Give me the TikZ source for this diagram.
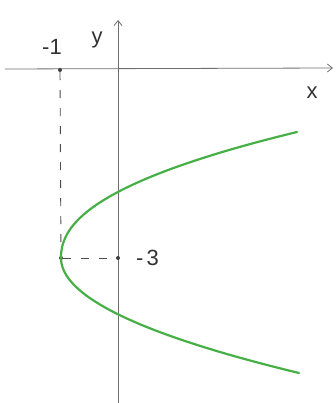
\documentclass[tikz,border=0pt]{standalone}
\usepackage{fontspec}
\setmainfont{Liberation Sans}
\usetikzlibrary{arrows.meta}
\definecolor{pencil}{RGB}{110,110,110}
\definecolor{curvegreen}{RGB}{70,175,70}
\tikzset{
  axis/.style={draw=pencil, line width=0.8pt, -{Straight Barb[length=5pt,width=8pt]}},
  guide/.style={draw=black!70, line width=0.9pt, dash pattern=on 8pt off 10pt},
  lbl/.style={font=\fontsize{22}{22}\selectfont, text=black!80, inner sep=1pt},
  pt/.style={circle, fill=black!75, inner sep=0pt, minimum size=4pt},
  curve/.style={draw=curvegreen, line width=2.2pt, line cap=round, line join=round}
}
\begin{document}
\begin{tikzpicture}[x=1pt,y=-1pt]
\useasboundingbox (0,0) rectangle (335,403);
\coordinate (xs) at (5,69);
\coordinate (xe) at (333,68);
\coordinate (ys) at (118,403);
\coordinate (ye) at (118,20);
\draw[axis] (xs) -- (xe);
\draw[axis] (ys) -- (ye);
\node[pt] (m1) at (60,70) {};
\node[pt] (v) at (61,258) {};
\node[pt] (m3) at (118,258) {};
\draw[guide] (m1) -- (v);
\draw[guide] (v) -- (m3);
\node[lbl] (lm1) at (52,47) {-1};
\node[lbl] (ly) at (97,40) {y};
\node[lbl] (lx) at (312,93) {x};
\node[lbl, anchor=west] (lm3) at (135,258) {-\hspace{3pt}3};
\draw[curve] plot[domain=-126:115, samples=100, variable=\t]
  ({61 + (\t<0 ? 236*pow(abs(\t)/126,2.2) : 238*(\t/115)*(\t/115))}, {258+\t});
\end{tikzpicture}
\end{document}
